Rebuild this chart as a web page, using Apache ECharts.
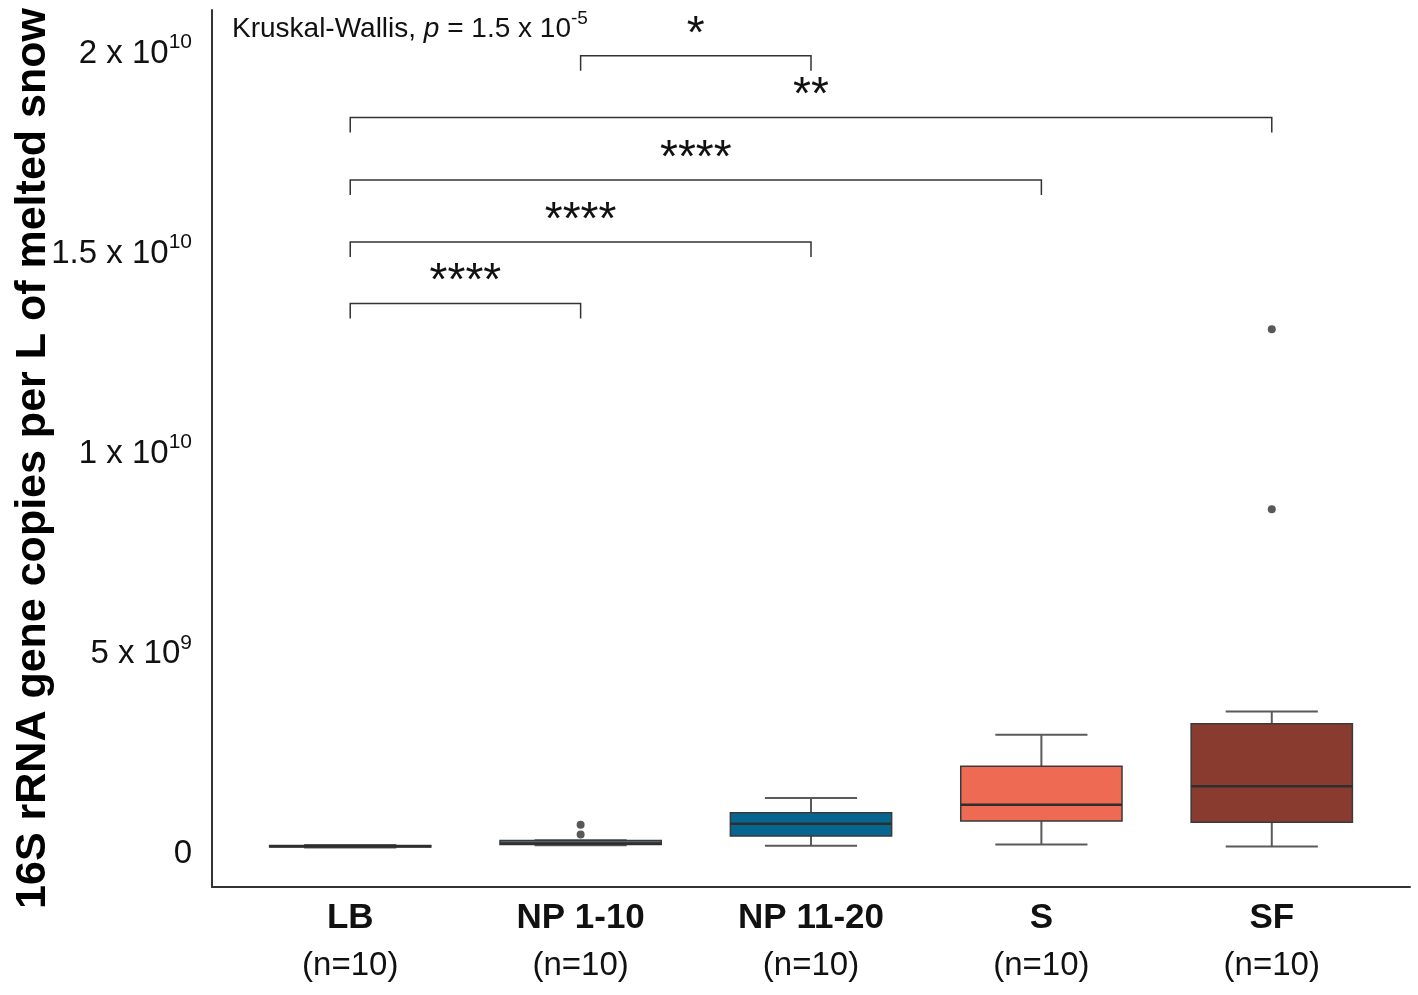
<!DOCTYPE html>
<html>
<head>
<meta charset="utf-8">
<script src="https://cdn.jsdelivr.net/npm/echarts@6.0.0/dist/echarts.min.js"></script>
<style>
  html, body { margin: 0; padding: 0; background: #fff; }
  #main { width: 1418px; height: 995px; }
</style>
</head>
<body>
<div id="main"></div>
<script>
var categories = ['LB', 'NP 1-10', 'NP 11-20', 'S', 'SF'];
var sampleSizes = [10, 10, 10, 10, 10];
// [min, Q1, median, Q3, max] per group
var boxValues = [
  [1.0e8, 1.1e8, 1.3e8, 1.5e8, 1.6e8],
  [1.55e8, 1.7e8, 2.0e8, 2.75e8, 2.8e8],
  [1.425e8, 3.825e8, 6.925e8, 9.675e8, 1.3325e9],
  [1.75e8, 7.575e8, 1.1675e9, 2.125e9, 2.9175e9],
  [1.25e8, 7.25e8, 1.625e9, 3.1925e9, 3.4925e9]
];
// outliers: [group number, value]
var outlierGroups = [2, 2, 5, 5];
var outlierValues = [6.675e8, 4.25e8, 1.305e10, 8.55e9];

var yTicks = [0, 5e9, 1e10, 1.5e10, 2e10];
var yTickLabels = [['0', ''], ['5 x 10', '9'], ['1 x 10', '10'], ['1.5 x 10', '10'], ['2 x 10', '10']];

// pairwise comparison brackets
var bracketFrom = [1, 1, 1, 1, 2];
var bracketTo = [2, 3, 4, 5, 3];
var bracketY = [1.369e10, 1.523e10, 1.6775e10, 1.834e10, 1.988e10];
var bracketLabels = ['****', '****', '****', '**', '*'];

var boxColors = ['#4a4a4a', '#5b7385', '#06668f', '#ee6a52', '#8a3b30'];
var FONT = '"Liberation Sans", Arial, Helvetica, sans-serif';

var myChart = echarts.init(document.getElementById('main'));

function renderBox(params, api) {
  var x = api.value(0);
  var half = api.size([0.7, 0])[0] / 2;
  var cap = api.size([0.4, 0])[0] / 2;
  var pMin = api.coord([x, api.value(1)]);
  var pQ1 = api.coord([x, api.value(2)]);
  var pMed = api.coord([x, api.value(3)]);
  var pQ3 = api.coord([x, api.value(4)]);
  var pMax = api.coord([x, api.value(5)]);
  var cx = pMed[0];
  var whisk = { stroke: '#5a5a5a', lineWidth: 2 };
  return {
    type: 'group',
    children: [
      { type: 'line', shape: { x1: cx, y1: pQ3[1], x2: cx, y2: pMax[1] }, style: whisk },
      { type: 'line', shape: { x1: cx, y1: pQ1[1], x2: cx, y2: pMin[1] }, style: whisk },
      { type: 'line', shape: { x1: cx - cap, y1: pMax[1], x2: cx + cap, y2: pMax[1] }, style: whisk },
      { type: 'line', shape: { x1: cx - cap, y1: pMin[1], x2: cx + cap, y2: pMin[1] }, style: whisk },
      {
        type: 'rect',
        shape: { x: cx - half, y: pQ3[1], width: half * 2, height: pQ1[1] - pQ3[1] },
        style: { fill: boxColors[params.dataIndex], stroke: '#3a3a3a', lineWidth: 1.5 }
      },
      { type: 'line', shape: { x1: cx - half, y1: pMed[1], x2: cx + half, y2: pMed[1] }, style: { stroke: '#2e2e2e', lineWidth: 2.5 } }
    ]
  };
}

function renderBracket(params, api) {
  var a = api.coord([api.value(0), api.value(2)]);
  var b = api.coord([api.value(1), api.value(2)]);
  var tick = 15;
  return {
    type: 'group',
    children: [
      {
        type: 'polyline',
        shape: { points: [[a[0], a[1] + tick], [a[0], a[1]], [b[0], b[1]], [b[0], b[1] + tick]] },
        style: { stroke: '#333', lineWidth: 1.5, fill: null }
      },
      {
        type: 'text',
        style: {
          text: bracketLabels[params.dataIndex],
          x: (a[0] + b[0]) / 2, y: a[1] - 21,
          align: 'center', verticalAlign: 'middle',
          fontSize: 46, fontFamily: FONT, fill: '#111'
        }
      }
    ]
  };
}

var boxData = boxValues.map(function (v, i) { return [i + 1].concat(v); });
var outlierData = outlierGroups.map(function (g, i) { return [g, outlierValues[i]]; });
var bracketData = bracketFrom.map(function (f, i) { return [f, bracketTo[i], bracketY[i]]; });

var option = {
  animation: false,
  title: {
    left: 232,
    top: 9,
    padding: 0,
    text: '{a|Kruskal-Wallis, }{i|p}{a| = 1.5 x 10}{s|-5}',
    textStyle: {
      fontWeight: 'normal',
      rich: {
        a: { fontSize: 28, fontFamily: FONT, fontWeight: 'normal', color: '#111', lineHeight: 34, verticalAlign: 'bottom' },
        i: { fontSize: 28, fontFamily: FONT, fontWeight: 'normal', fontStyle: 'italic', color: '#111', lineHeight: 34, verticalAlign: 'bottom' },
        s: { fontSize: 19, fontFamily: FONT, fontWeight: 'normal', color: '#111', lineHeight: 19, verticalAlign: 'top' }
      }
    }
  },
  grid: { left: 212, right: 8, top: 10, bottom: 108, containLabel: false, outerBoundsMode: 'none' },
  xAxis: {
    type: 'value',
    min: 0.4,
    max: 5.6,
    splitLine: { show: false },
    axisTick: { show: false },
    axisLine: { show: true, onZero: false, lineStyle: { color: '#333', width: 2 } },
    axisLabel: {
      customValues: [1, 2, 3, 4, 5],
      margin: 7,
      formatter: function (v) {
        var i = Math.round(v) - 1;
        return '{b|' + categories[i] + '}\n{n|(n=' + sampleSizes[i] + ')}';
      },
      rich: {
        b: { fontSize: 35, fontWeight: 'bold', fontFamily: FONT, color: '#111', lineHeight: 48 },
        n: { fontSize: 33, fontFamily: FONT, color: '#111', lineHeight: 48 }
      }
    }
  },
  yAxis: {
    type: 'value',
    min: -8.9e8,
    max: 2.1025e10,
    name: '16S rRNA gene copies per L of melted snow',
    nameLocation: 'middle',
    nameRotate: 90,
    nameGap: 157,
    nameMoveOverlap: false,
    nameTextStyle: { fontSize: 43, fontWeight: 'bold', fontFamily: FONT, color: '#000', padding: [0, 20, 0, 0] },
    splitLine: { show: false },
    axisTick: { show: false },
    axisLine: { show: true, onZero: false, lineStyle: { color: '#333', width: 2 } },
    axisLabel: {
      customValues: yTicks,
      margin: 20,
      formatter: function (v) {
        var i = yTicks.indexOf(v);
        var t = yTickLabels[i];
        return t[1] ? '{a|' + t[0] + '}{s|' + t[1] + '}' : '{a|' + t[0] + '}';
      },
      rich: {
        a: { fontSize: 33, fontFamily: FONT, color: '#111', lineHeight: 38, verticalAlign: 'bottom' },
        s: { fontSize: 21, fontFamily: FONT, color: '#111', lineHeight: 21, verticalAlign: 'top' }
      }
    }
  },
  series: [
    {
      type: 'custom',
      name: 'boxes',
      renderItem: renderBox,
      encode: { x: 0, y: [1, 2, 3, 4, 5] },
      data: boxData,
      z: 2
    },
    {
      type: 'scatter',
      name: 'outliers',
      data: outlierData,
      symbolSize: 8,
      itemStyle: { color: '#2e2e2e' },
      z: 3
    },
    {
      type: 'custom',
      name: 'brackets',
      renderItem: renderBracket,
      encode: { x: [0, 1], y: 2 },
      data: bracketData,
      clip: false,
      z: 4
    }
  ]
};

myChart.setOption(option);
</script>
</body>
</html>
